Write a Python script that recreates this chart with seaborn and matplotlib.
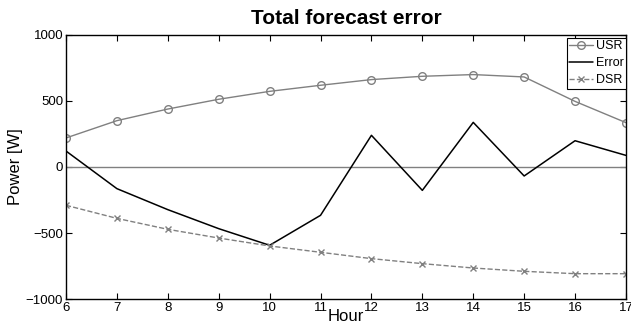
import matplotlib
matplotlib.use("Agg")
import matplotlib.pyplot as plt
import seaborn as sns
import pandas as pd

hours = [6, 7, 8, 9, 10, 11, 12, 13, 14, 15, 16, 17]
usr = [220, 351, 439, 513, 573, 619, 662, 687, 700, 682, 497, 336]
error = [121, -164, -323, -467, -593, -366, 240, -177, 338, -68, 199, 88]
dsr = [-290, -389, -472, -538, -598, -646, -694, -732, -765, -790, -808, -808]

sns.set_theme(style="white")
plt.rcParams["font.family"] = ["Liberation Sans", "DejaVu Sans"]
plt.rcParams["text.color"] = "black"
plt.rcParams["axes.labelcolor"] = "black"

df = pd.DataFrame({"Hour": hours, "USR": usr, "Error": error, "DSR": dsr})

fig = plt.figure(figsize=(6.31, 3.33), dpi=100)
ax = fig.add_axes([0.1046, 0.102, 0.8874, 0.793])

grey = "#808080"
ax.axhline(0, color=grey, lw=1.0, zorder=1)
sns.lineplot(data=df, x="Hour", y="USR", ax=ax, color=grey, lw=1.0,
             marker="o", markersize=5.5, markerfacecolor="none",
             markeredgecolor=grey, markeredgewidth=1.0, label="USR")
sns.lineplot(data=df, x="Hour", y="Error", ax=ax, color="black", lw=1.1,
             label="Error")
sns.lineplot(data=df, x="Hour", y="DSR", ax=ax, color=grey, lw=1.0,
             linestyle="--", dashes=(4, 3), marker="x", markersize=4.5,
             markeredgecolor=grey, markeredgewidth=1.0, label="DSR")

ax.set_xlim(6, 17)
ax.set_ylim(-1000, 1000)
ax.set_xticks(hours)
ax.set_yticks([-1000, -500, 0, 500, 1000])
ax.set_yticklabels(["\u22121000", "\u2212500", "0", "500", "1000"])
ax.tick_params(direction="in", length=4, width=0.8, labelsize=9.5, pad=2,
               top=True, right=True, bottom=True, left=True,
               colors="black", labelcolor="black")
for s in ax.spines.values():
    s.set_color("black")
    s.set_linewidth(1.0)

ax.set_xlabel("Hour", fontsize=12, labelpad=-3.5)
ax.set_ylabel("Power [W]", fontsize=12, labelpad=2)
ax.set_title("Total forecast error", fontsize=15, fontweight="bold", pad=8)

leg = ax.legend(loc="upper right", bbox_to_anchor=(1.0, 0.989),
                fontsize=9, frameon=True, fancybox=False,
                edgecolor="black", framealpha=1, borderpad=0.2,
                handlelength=1.9, handletextpad=0.2, labelspacing=0.4,
                borderaxespad=0.0)
leg.get_frame().set_linewidth(0.8)
for t in leg.get_texts():
    t.set_color("black")

fig.savefig("out.png", dpi=100)
